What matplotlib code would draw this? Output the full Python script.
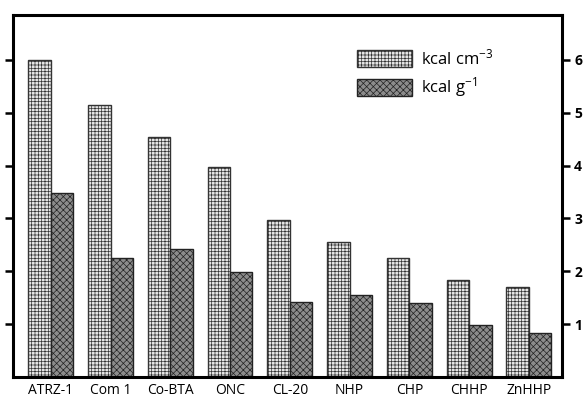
import numpy as np
import matplotlib.pyplot as plt

plt.rcParams['font.family'] = ['Open Sans', 'DejaVu Sans']
plt.rcParams['mathtext.default'] = 'regular'
plt.rcParams['hatch.linewidth'] = 0.5

# data
names = ['ATRZ-1', 'Com 1', 'Co-BTA', 'ONC', 'CL-20', 'NHP', 'CHP', 'CHHP', 'ZnHHP']
kcal_cm3 = [6.0, 5.14, 4.55, 3.98, 2.98, 2.56, 2.26, 1.84, 1.71]
kcal_g = [3.49, 2.26, 2.43, 1.99, 1.42, 1.55, 1.40, 0.99, 0.84]

x = np.arange(len(names))
w = 0.375

fig = plt.figure(figsize=(5.85, 3.97), dpi=100)
ax = fig.add_axes([0.0222, 0.0504, 0.938, 0.9116])

plt.rcParams['hatch.color'] = '#6a6a6a'
ax.bar(x - w / 2, kcal_cm3, w, facecolor='#e6e6e6', edgecolor='#333333',
       hatch='+++++', linewidth=1.0, label='kcal cm$^{-3}$')
ax.bar(x + w / 2, kcal_g, w, facecolor='#8c8c8c', edgecolor='#222222',
       hatch='xxxxx', linewidth=1.0, label='kcal g$^{-1}$')

ax.set_xlim(-0.633, 8.55)
ax.set_ylim(0, 6.85)
ax.set_xticks(x)
ax.set_xticklabels(names, fontsize=10)
ax.tick_params(axis='x', length=0, pad=4)

ax.set_yticks([1, 2, 3, 4, 5, 6])
ax.tick_params(axis='y', direction='out', length=6, width=1.8,
               left=True, right=True, labelleft=False, labelright=True,
               labelsize=10, pad=3)
for t in ax.get_yticklabels():
    t.set_fontweight('bold')

for s in ax.spines.values():
    s.set_linewidth(2.2)

ax.legend(loc='upper left', bbox_to_anchor=(0.6, 0.95), frameon=False,
          fontsize=12, handlelength=3.3, handleheight=1.2,
          handletextpad=0.5, labelspacing=0.45)

fig.savefig('out.png', dpi=100)
